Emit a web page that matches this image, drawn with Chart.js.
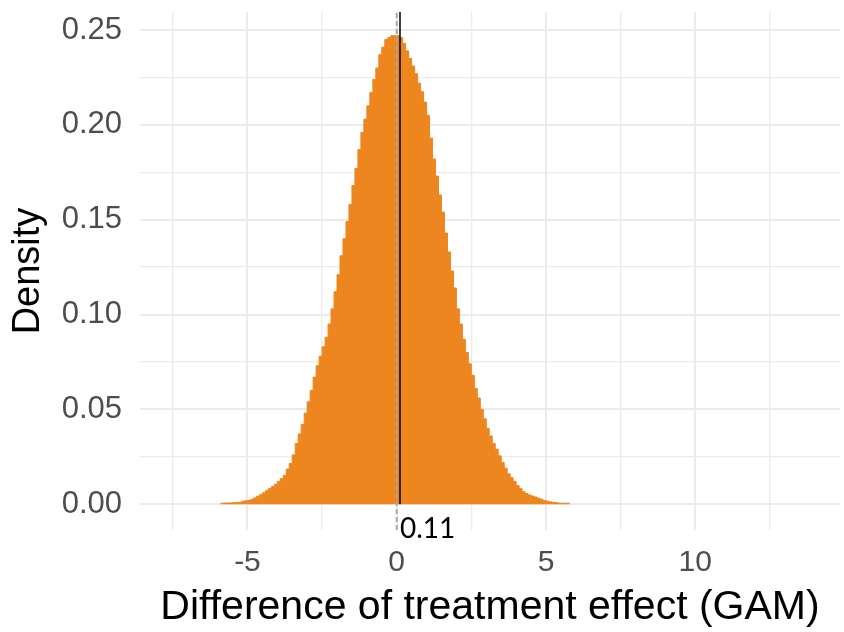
<!DOCTYPE html>
<html>
<head>
<meta charset="utf-8">
<script src="https://cdn.jsdelivr.net/npm/chart.js@4"></script>
<style>
  body { margin: 0; background: #fff; }
</style>
</head>
<body>
<canvas id="graph" width="844" height="632"></canvas>
<script>
// histogram bins: first left edge and width, then density of each bin
var binStart = -5.9;
var binWidth = 0.1;
var densite = [
  0.0005, 0.0005, 0.0006, 0.0006, 0.0007, 0.0008, 0.0009, 0.001, 0.0015, 0.0018,
  0.002, 0.0025, 0.0033, 0.0042, 0.005, 0.006, 0.0071, 0.0082, 0.0094, 0.0105,
  0.012, 0.0135, 0.0152, 0.0185, 0.0215, 0.026, 0.032, 0.037, 0.042, 0.048,
  0.054, 0.060, 0.067, 0.073, 0.078, 0.083, 0.088, 0.095, 0.103, 0.112,
  0.121, 0.131, 0.140, 0.149, 0.158, 0.168, 0.177, 0.187, 0.196, 0.203,
  0.210, 0.217, 0.224, 0.230, 0.237, 0.241, 0.245, 0.246, 0.247,
  0.247, 0.247, 0.246, 0.243, 0.239, 0.235, 0.231, 0.227, 0.222, 0.2175,
  0.212, 0.205, 0.193, 0.182, 0.173, 0.163, 0.154, 0.143, 0.133, 0.123,
  0.114, 0.103, 0.095, 0.087, 0.080, 0.074, 0.068, 0.061, 0.056, 0.050,
  0.045, 0.040, 0.036, 0.032, 0.029, 0.0255, 0.022, 0.019, 0.016, 0.014,
  0.012, 0.0098, 0.0082, 0.0066, 0.0056, 0.0049, 0.0043, 0.0038, 0.0032, 0.0026,
  0.002, 0.0016, 0.0012, 0.001, 0.0008, 0.0006, 0.0005, 0.0005
];

// reference lines
var zeroLine = 0;
var estimate = 0.11;
var estimateLabel = "0.11";

// axes
var xMin = -8.6, xMax = 14.85;
var yMin = -0.0136, yMax = 0.2595;
var xTicks = [-7.5, -5, -2.5, 0, 2.5, 5, 7.5, 10, 12.5];
var xLabels = ["", "-5", "", "0", "", "5", "", "10", ""];
var yTicks = [0, 0.025, 0.05, 0.075, 0.1, 0.125, 0.15, 0.175, 0.2, 0.225, 0.25];
var yLabels = ["0.00", "", "0.05", "", "0.10", "", "0.15", "", "0.20", "", "0.25"];

// points for the stepped outline (left edges + last right edge)
var histo = densite.map(function (d, i) {
  return { x: binStart + i * binWidth, y: d };
});
histo.push({ x: binStart + densite.length * binWidth, y: densite[densite.length - 1] });

var grille = "#ebebeb";
var orange = "#ee8620";

// label under the estimate line
var etiquette = {
  id: "etiquette",
  afterDatasetsDraw: function (chart) {
    var c = chart.ctx;
    var px = chart.scales.x.getPixelForValue(estimate);
    c.save();
    c.font = "28px Lato";
    c.fillStyle = "#000";
    c.textAlign = "left";
    c.textBaseline = "alphabetic";
    c.fillText(estimateLabel, px, chart.chartArea.bottom + 8);
    c.restore();
  }
};

new Chart(document.getElementById("graph"), {
  type: "line",
  data: {
    datasets: [
      {
        data: [{ x: estimate, y: 0 }, { x: estimate, y: yMax }],
        borderColor: "#000",
        borderWidth: 1.5,
        pointRadius: 0,
        order: 1
      },
      {
        data: [{ x: zeroLine, y: yMin }, { x: zeroLine, y: yMax }],
        borderColor: "#a8a8a8",
        borderWidth: 2,
        borderDash: [5, 3],
        pointRadius: 0,
        order: 2
      },
      {
        data: histo,
        stepped: "after",
        borderColor: orange,
        borderWidth: 1,
        backgroundColor: orange,
        fill: "origin",
        pointRadius: 0,
        order: 3
      }
    ]
  },
  options: {
    responsive: false,
    animation: false,
    layout: { padding: { top: 12, right: 4, left: 0, bottom: 0 } },
    plugins: {
      legend: { display: false },
      tooltip: { enabled: false }
    },
    scales: {
      x: {
        type: "linear",
        min: xMin,
        max: xMax,
        afterBuildTicks: function (s) {
          s.ticks = xTicks.map(function (v) { return { value: v }; });
        },
        afterFit: function (s) {
          s.height = 102;
          s.paddingLeft = 0;
          s.paddingRight = 0;
        },
        border: { display: false },
        grid: {
          color: grille,
          drawTicks: false,
          lineWidth: function (ctx) { return xLabels[ctx.index] ? 2 : 1.3; }
        },
        ticks: {
          padding: 15,
          maxRotation: 0,
          autoSkip: false,
          color: "#4d4d4d",
          font: { family: "Liberation Sans", size: 30 },
          callback: function (v, i) { return xLabels[i]; }
        },
        title: {
          display: true,
          text: "Difference of treatment effect (GAM)",
          color: "#000",
          font: { family: "Liberation Sans", size: 41 },
          padding: { top: 0, bottom: 0 }
        }
      },
      y: {
        min: yMin,
        max: yMax,
        afterBuildTicks: function (s) {
          s.ticks = yTicks.map(function (v) { return { value: v }; });
        },
        afterFit: function (s) {
          s.width = 140;
          s.paddingTop = 0;
          s.paddingBottom = 0;
        },
        border: { display: false },
        grid: {
          color: grille,
          drawTicks: false,
          lineWidth: function (ctx) { return yLabels[ctx.index] ? 2 : 1.3; }
        },
        ticks: {
          padding: 18,
          autoSkip: false,
          color: "#4d4d4d",
          font: { family: "Liberation Sans", size: 31 },
          callback: function (v, i) { return yLabels[i]; }
        },
        title: {
          display: true,
          text: "Density",
          color: "#000",
          font: { family: "Liberation Sans", size: 38 },
          padding: { top: 6, bottom: 0 }
        }
      }
    }
  },
  plugins: [etiquette]
});
</script>
</body>
</html>
